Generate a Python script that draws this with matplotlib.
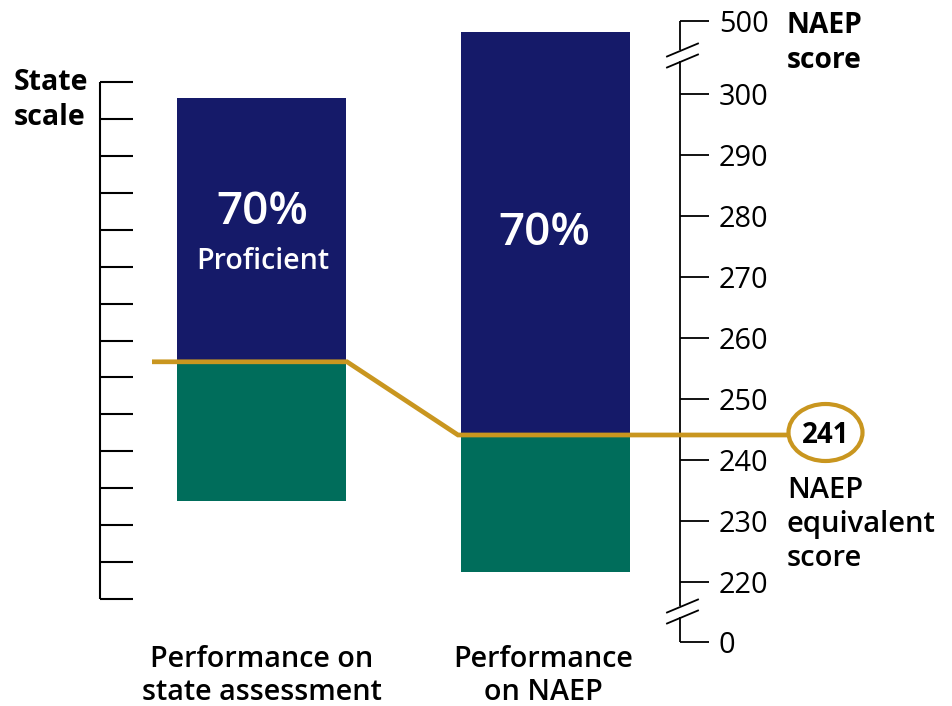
import matplotlib
matplotlib.use("Agg")
import matplotlib.pyplot as plt
from matplotlib.patches import Ellipse
import numpy as np

# ---------------- data ----------------
categories = ["Performance on\nstate assessment", "Performance\non NAEP"]
bar_bottom = [233.3, 221.6]      # bottom of each bar (display NAEP-score units)
cut_score = [256.1, 244.1]       # proficient cut (boundary green / navy)
bar_top = [299.3, 310.2]         # top of each bar
pct_labels = ["70%", "70%"]
sub_labels = ["Proficient", ""]
naep_ticks = [220, 230, 240, 250, 260, 270, 280, 290, 300]
naep_break_ticks = [210.2, 312.0]   # positions for the broken-axis labels
naep_break_labels = ["0", "500"]
naep_equivalent = "241"
n_state_ticks = 15

# ---------------- style ----------------
NAVY = "#151a69"
GREEN = "#006d5b"
GOLD = "#c9961f"
FONT = ["Open Sans", "DejaVu Sans"]
plt.rcParams["font.family"] = FONT

W, H = 953, 706
PX_PER_UNIT = 6.1


def py(px):
    """pixel row -> display score units"""
    return 220 + (582 - px) / PX_PER_UNIT


fig = plt.figure(figsize=(W / 100, H / 100), dpi=100)
ax = fig.add_axes([0, 0, 1, 1])
ax.set_xlim(0, W)
ax.set_ylim(py(H), py(0))
ax.axis("off")

x_centers = [261.5, 545.5]
bar_w = 169

# bars
for i in range(2):
    ax.bar(x_centers[i], cut_score[i] - bar_bottom[i], bottom=bar_bottom[i],
           width=bar_w, color=GREEN, zorder=2)
    ax.bar(x_centers[i], bar_top[i] - cut_score[i], bottom=cut_score[i],
           width=bar_w, color=NAVY, zorder=2)

# percentage labels
ax.text(x_centers[0] + 1, py(224), pct_labels[0], color="white", fontsize=33,
        fontweight="semibold", ha="center", va="baseline", zorder=5)
ax.text(x_centers[0] + 1, py(269), sub_labels[0], color="white", fontsize=20.6,
        fontweight="semibold", ha="center", va="baseline", zorder=5)
ax.text(x_centers[1] - 1, py(244.5), pct_labels[1], color="white", fontsize=33,
        fontweight="semibold", ha="center", va="baseline", zorder=5)

# left (state) axis
lw_axis = 1.5
state_ticks = np.linspace(py(82), py(599), n_state_ticks)
ax.plot([100, 100], [state_ticks[0], state_ticks[-1]], color="black",
        lw=lw_axis, solid_capstyle="butt", zorder=3)
for t in state_ticks:
    ax.plot([100, 133], [t, t], color="black", lw=lw_axis,
            solid_capstyle="butt", zorder=3)
ax.text(14, py(90), "State", fontsize=20.5, fontweight="bold", ha="left",
        va="baseline")
ax.text(14, py(125), "scale", fontsize=20.5, fontweight="bold", ha="left",
        va="baseline")

# right (NAEP) axis with breaks
AX_X = 680
lw_r = 1.3
top_v, bot_v = naep_break_ticks[1], naep_break_ticks[0]
segs = [(top_v, py(50)), (py(61), py(606)), (py(617), bot_v)]
for a, b in segs:
    ax.plot([AX_X, AX_X], [a, b], color="black", lw=lw_r,
            solid_capstyle="butt", zorder=3)
for yc in [50, 61, 606, 617]:
    ax.plot([667, 698], [py(yc + 6.5), py(yc - 6.5)], color="black", lw=lw_r,
            zorder=3)

all_ticks = naep_ticks + naep_break_ticks
all_labels = [str(v) for v in naep_ticks] + naep_break_labels
for v, lab in zip(all_ticks, all_labels):
    ax.plot([AX_X, 709], [v, v], color="black", lw=lw_r,
            solid_capstyle="butt", zorder=3)
    ax.text(719, v - 11 / PX_PER_UNIT, lab, fontsize=20.8, ha="left",
            va="baseline")

ax.text(787, py(33), "NAEP", fontsize=20.3, fontweight="bold", ha="left",
        va="baseline")
ax.text(787, py(68), "score", fontsize=20.3, fontweight="bold", ha="left",
        va="baseline")

# gold connector line
lx = [152, 347, 458, 788]
ly = [cut_score[0], cut_score[0], cut_score[1], cut_score[1]]
ax.plot(lx, ly, color=GOLD, lw=3.4, solid_joinstyle="miter",
        solid_capstyle="butt", zorder=4)

ell = Ellipse((825.5, py(432.5)), 74, 57 / PX_PER_UNIT, fill=False,
              edgecolor=GOLD, lw=3.0, zorder=4)
ax.add_patch(ell)
ax.text(825.5, py(443), naep_equivalent, fontsize=20, fontweight="bold",
        ha="center", va="baseline", zorder=5)

for txt, b in zip(["NAEP", "equivalent", "score"], [498, 532, 566]):
    ax.text(787, py(b), txt, fontsize=21, fontweight="semibold",
            ha="left", va="baseline")

# category labels
for xc, cat in zip([261.5, 543.5], categories):
    lines = cat.split("\n")
    for k, ln in enumerate(lines):
        ax.text(xc, py(667 + 33 * k), ln, fontsize=20.7,
                fontweight="semibold", ha="center", va="baseline")

fig.savefig("out.png", dpi=100)
